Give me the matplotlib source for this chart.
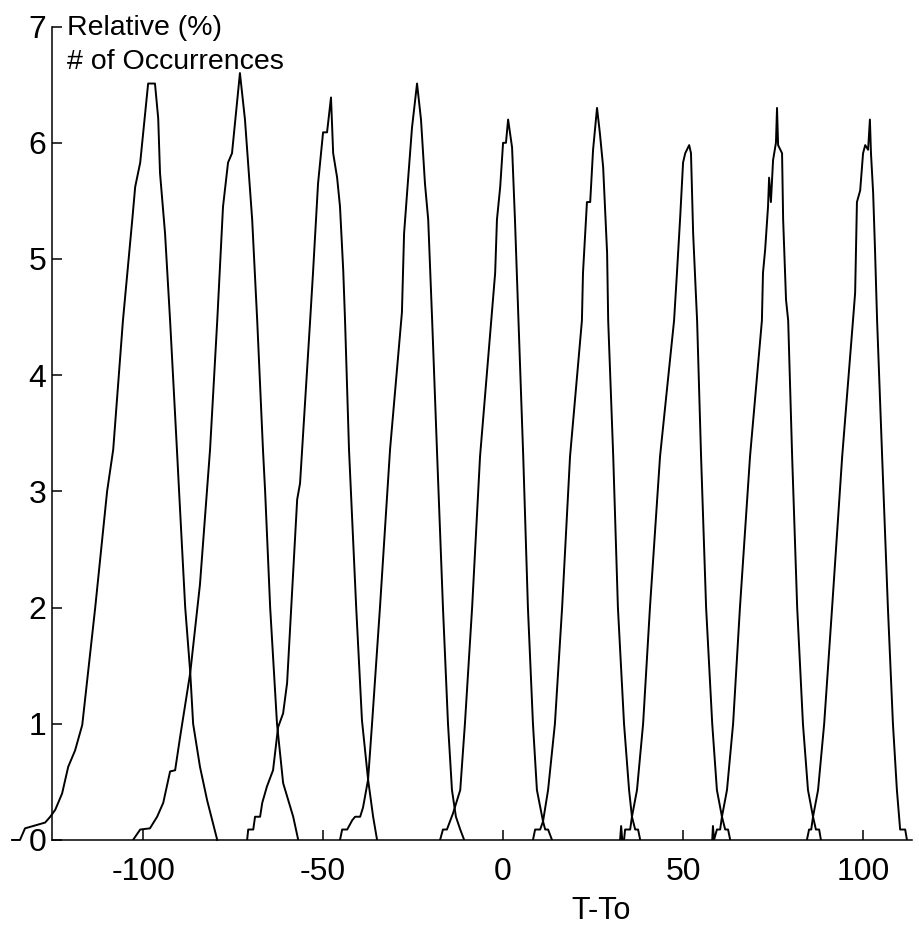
import matplotlib
matplotlib.use("Agg")
import matplotlib.pyplot as plt

plt.rcParams['font.family'] = ['Liberation Sans', 'DejaVu Sans']
plt.rcParams['axes.unicode_minus'] = False

# nine occurrence distributions, T-To vs relative % of occurrences
p1_x = [-136.4, -134.2, -132.8, -127.2, -125.8, -124.4, -122.5, -120.8, -118.9, -116.9,
        -113.3, -110.0, -108.3, -105.6, -103.0, -102.2, -100.8, -98.6, -96.7, -95.8,
        -95.3, -93.9, -92.5, -90.6, -90.0, -88.3, -86.9, -86.1, -84.2, -82.2, -79.4]
p1_y = [0, 0, 0.10, 0.15, 0.20, 0.26, 0.40, 0.63, 0.77, 0.99,
        2.0, 3.0, 3.36, 4.47, 5.34, 5.62, 5.83, 6.51, 6.51, 6.21,
        5.74, 5.22, 4.47, 3.36, 3.0, 2.0, 1.44, 1.0, 0.63, 0.34, 0]

p2_x = [-102.8, -100.8, -98.1, -96.1, -94.4, -92.5, -91.1, -89.7, -86.9, -84.2,
        -81.4, -79.4, -77.8, -76.4, -75.3, -73.1, -71.7, -69.7, -68.3, -66.7,
        -66.1, -64.7, -62.8, -61.1, -58.3, -56.9]
p2_y = [0, 0.09, 0.10, 0.20, 0.32, 0.59, 0.60, 0.89, 1.44, 2.2,
        3.36, 4.47, 5.45, 5.83, 5.91, 6.6, 6.2, 5.34, 4.47, 3.36,
        3.0, 2.0, 1.0, 0.49, 0.20, 0]

p3_x = [-71.1, -70.8, -69.4, -68.9, -67.5, -66.9, -65.6, -63.9, -62.5, -61.1,
        -60.0, -57.2, -56.4, -53.6, -52.8, -51.4, -50.0, -48.9, -47.8, -47.2,
        -46.1, -45.3, -44.4, -43.9, -42.8, -40.8, -39.2, -37.5, -36.1, -35.0]
p3_y = [0, 0.09, 0.09, 0.20, 0.20, 0.32, 0.46, 0.60, 0.97, 1.09,
        1.35, 2.93, 3.07, 4.47, 4.88, 5.65, 6.09, 6.09, 6.39, 5.91,
        5.70, 5.45, 4.90, 4.47, 3.36, 2.0, 1.03, 0.52, 0.20, 0]

p4_x = [-45.3, -44.7, -43.3, -41.9, -41.1, -39.7, -38.9, -37.5, -36.4, -34.2,
        -31.4, -28.1, -27.5, -26.4, -25.3, -23.9, -22.8, -21.7, -20.8, -19.7,
        -18.3, -16.7, -15.3, -14.2, -13.1, -11.9, -10.8]
p4_y = [0, 0.09, 0.09, 0.17, 0.20, 0.20, 0.28, 0.52, 1.0, 2.0,
        3.36, 4.54, 5.22, 5.68, 6.13, 6.51, 6.2, 5.65, 5.34, 4.47,
        3.3, 2.0, 1.0, 0.43, 0.20, 0.09, 0]

p5_x = [-17.5, -16.7, -15.6, -13.9, -11.9, -10.6, -8.6, -6.4, -3.1, -2.2,
        -1.7, -0.8, 0.0, 0.8, 1.4, 2.5, 3.3, 4.2, 5.6, 6.9,
        8.3, 9.4, 11.1, 11.7, 12.5, 13.6]
p5_y = [0, 0.09, 0.09, 0.23, 0.43, 1.0, 2.0, 3.3, 4.54, 4.88,
        5.34, 5.62, 6.0, 6.0, 6.2, 5.96, 5.34, 4.54, 3.3, 2.0,
        1.0, 0.43, 0.16, 0.09, 0.09, 0]

p6_x = [8.3, 8.9, 10.3, 11.1, 12.5, 14.4, 16.4, 18.6, 21.9, 22.2,
        23.3, 24.2, 25.0, 26.1, 26.9, 27.8, 28.9, 29.2, 30.6, 31.9,
        33.6, 35.0, 35.8, 36.7, 37.5, 38.1]
p6_y = [0, 0.09, 0.09, 0.16, 0.43, 1.0, 2.0, 3.3, 4.47, 4.88,
        5.49, 5.49, 5.94, 6.3, 6.08, 5.79, 5.05, 4.47, 3.3, 2.0,
        1.0, 0.43, 0.20, 0.09, 0.09, 0]

p7_x = [32.5, 32.8, 33.1, 33.6, 33.9, 35.3, 35.8, 37.2, 38.9, 40.8,
        43.6, 47.5, 48.3, 49.2, 50.0, 50.6, 51.7, 52.2, 52.8, 53.6,
        53.9, 55.0, 56.4, 58.1, 59.4, 60.8, 61.7, 62.5, 63.1]
p7_y = [0, 0.12, 0, 0, 0.09, 0.09, 0.20, 0.43, 1.0, 2.0,
        3.3, 4.47, 4.88, 5.36, 5.83, 5.91, 5.98, 5.91, 5.22, 4.67,
        4.47, 3.3, 2.0, 1.0, 0.43, 0.20, 0.09, 0.09, 0]

p8_x = [58.1, 58.3, 58.6, 59.4, 60.3, 60.8, 62.2, 63.9, 65.8, 68.6,
        71.9, 72.2, 72.8, 73.6, 73.9, 74.4, 75.0, 75.8, 76.1, 76.4,
        77.5, 77.8, 78.6, 79.2, 80.3, 81.7, 83.3, 84.7, 86.1, 86.9,
        87.8, 88.3]
p8_y = [0, 0.12, 0, 0.09, 0.09, 0.20, 0.43, 1.0, 2.0, 3.3,
        4.47, 4.88, 5.08, 5.45, 5.7, 5.49, 5.85, 6.0, 6.3, 5.98,
        5.91, 5.34, 4.65, 4.47, 3.3, 2.0, 1.0, 0.43, 0.20, 0.09,
        0.09, 0]

p9_x = [84.4, 85.0, 85.6, 86.1, 87.5, 89.2, 91.4, 94.2, 97.2, 97.8,
        98.3, 99.2, 100.0, 100.6, 101.4, 101.9, 102.2, 102.8, 103.3, 103.9,
        105.3, 106.9, 108.3, 109.4, 110.3, 111.7, 112.2]
p9_y = [0, 0.09, 0.09, 0.20, 0.43, 1.0, 2.0, 3.3, 4.47, 4.71,
        5.49, 5.59, 5.91, 5.98, 5.94, 6.2, 5.91, 5.57, 5.1, 4.47,
        3.3, 2.0, 1.0, 0.43, 0.09, 0.09, 0]

x_ticks = [-100, -50, 0, 50, 100]
y_ticks = [0, 1, 2, 3, 4, 5, 6, 7]

fig = plt.figure(figsize=(9.19, 9.30), dpi=100)
ax = fig.add_axes([0.0566, 0.0968, 0.9358, 0.8746])

curves = [(p1_x, p1_y), (p2_x, p2_y), (p3_x, p3_y), (p4_x, p4_y), (p5_x, p5_y),
          (p6_x, p6_y), (p7_x, p7_y), (p8_x, p8_y), (p9_x, p9_y)]
for i, (xs, ys) in enumerate(curves):
    # first curve runs a bit past the left axis in the original
    ax.plot(xs, ys, color='black', lw=1.4, clip_on=(i != 0))

ax.set_xlim(-125.3, 113.6)
ax.set_ylim(0, 7)
ax.set_xticks(x_ticks)
ax.set_yticks(y_ticks)
ax.spines['top'].set_visible(False)
ax.spines['right'].set_visible(False)
for s in ['left', 'bottom']:
    ax.spines[s].set_linewidth(1.1)
ax.tick_params(direction='in', length=7, width=1.1, labelsize=23)
ax.tick_params(axis='x', pad=12)
ax.tick_params(axis='y', pad=4)

ax.text(-121, 7.1, 'Relative (%)\n# of Occurrences', ha='left', va='top',
        fontsize=20.5, linespacing=1.4, clip_on=False)
ax.text(27.2, -0.61, 'T-To', ha='center', va='center', fontsize=22, clip_on=False)

fig.savefig('out.png', dpi=100)
